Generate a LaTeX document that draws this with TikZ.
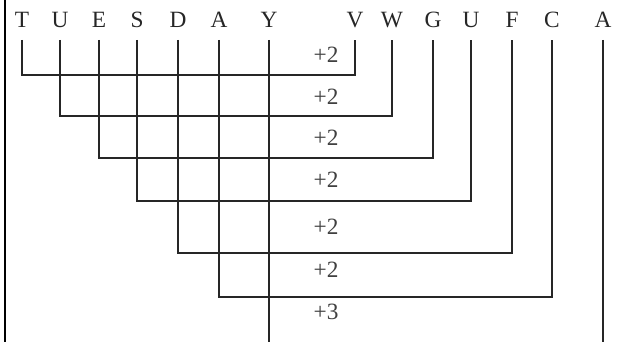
\documentclass[tikz,border=0pt]{standalone}
\usepackage{fontspec}
\setmainfont{Liberation Serif}
\begin{document}
\begin{tikzpicture}[x=0.75pt,y=-0.75pt,
  letter/.style={font=\fontsize{17.5}{18}\selectfont, text=black!85, inner sep=0pt, anchor=base},
  step label/.style={font=\fontsize{17.5}{18}\selectfont, text=black!75, inner sep=0pt, anchor=base},
  conn/.style={draw=black!85, line width=1.1pt}]
\useasboundingbox (0,0) rectangle (618,342);
\draw[black, line width=1.6pt] (5,0) -- (5,342);
% top letters
\node[letter] (l1) at (22,28) {T};
\node[letter] (l2) at (60,28) {U};
\node[letter] (l3) at (99,28) {E};
\node[letter] (l4) at (137,28) {S};
\node[letter] (l5) at (178,28) {D};
\node[letter] (l6) at (219,28) {A};
\node[letter] (l7) at (269,28) {Y};
\node[letter] (r1) at (355,28) {V};
\node[letter] (r2) at (392,28) {W};
\node[letter] (r3) at (433,28) {G};
\node[letter] (r4) at (471,28) {U};
\node[letter] (r5) at (512,28) {F};
\node[letter] (r6) at (552,28) {C};
\node[letter] (r7) at (603,28) {A};
% levels
\coordinate (top) at (0,40);
\coordinate (bot) at (0,342);
\coordinate (h1) at (0,75);
\coordinate (h2) at (0,116);
\coordinate (h3) at (0,158);
\coordinate (h4) at (0,201);
\coordinate (h5) at (0,253);
\coordinate (h6) at (0,297);
% connectors
\draw[conn] (l1 |- top) |- (r1 |- h1) -- (r1 |- top);
\draw[conn] (l2 |- top) |- (r2 |- h2) -- (r2 |- top);
\draw[conn] (l3 |- top) |- (r3 |- h3) -- (r3 |- top);
\draw[conn] (l4 |- top) |- (r4 |- h4) -- (r4 |- top);
\draw[conn] (l5 |- top) |- (r5 |- h5) -- (r5 |- top);
\draw[conn] (l6 |- top) |- (r6 |- h6) -- (r6 |- top);
\draw[conn] (l7 |- top) -- (l7 |- bot);
\draw[conn] (r7 |- top) -- (r7 |- bot);
% labels
\node[step label] (s1) at (326,63) {+2};
\node[step label] (s2) at (326,105) {+2};
\node[step label] (s3) at (326,146) {+2};
\node[step label] (s4) at (326,188) {+2};
\node[step label] (s5) at (326,235) {+2};
\node[step label] (s6) at (326,277) {+2};
\node[step label] (s7) at (326,320) {+3};
\end{tikzpicture}
\end{document}
